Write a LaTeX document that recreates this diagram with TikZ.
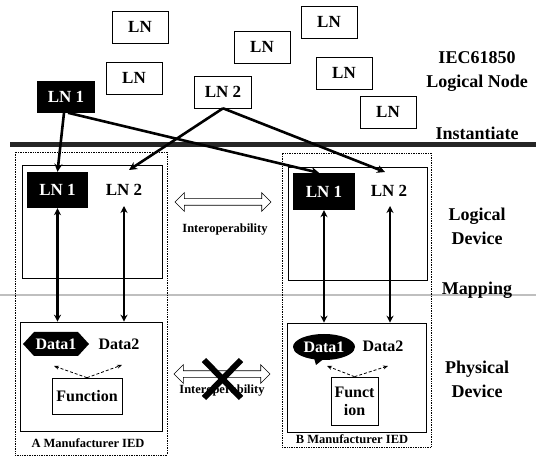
\documentclass[tikz,border=0pt]{standalone}
\usepackage{fontspec}
\setmainfont{Liberation Serif}
\usetikzlibrary{arrows.meta,shapes.geometric,shapes.arrows,shapes.callouts}
\begin{document}
\begin{tikzpicture}[x=1pt,y=-1pt,
  lnbox/.style={draw, line width=0.6pt, minimum width=56pt, minimum height=32pt, inner sep=0pt, font=\fontsize{17}{17}\selectfont\bfseries},
  blackbox/.style={fill=black, text=white, inner sep=0pt, font=\fontsize{17}{17}\selectfont\bfseries},
  plain/.style={inner sep=0pt, font=\fontsize{16}{18}\selectfont\bfseries},
  side/.style={inner sep=0pt, align=center, font=\fontsize{18}{24}\selectfont\bfseries},
  small/.style={inner sep=0pt, font=\fontsize{12.5}{13}\selectfont\bfseries},
  frame/.style={draw, line width=0.6pt, inner sep=0pt},
  outer/.style={draw, densely dotted, line width=0.7pt, inner sep=0pt},
  conn/.style={line width=2.6pt, -{Stealth[length=8pt,width=8pt]}},
  vconn/.style={line width=2.2pt, {Stealth[length=7pt,width=7pt]}-{Stealth[length=7pt,width=7pt]}},
  dconn/.style={densely dashed, line width=0.8pt, -{Stealth[length=5pt,width=4pt]}},
  hollow/.style={double arrow, draw, line width=0.6pt, minimum height=96pt, minimum width=18pt, inner sep=3pt, double arrow head extend=6pt}
]
\useasboundingbox (0,0) rectangle (536,457);

% band lines
\draw[line width=5pt, black!85] (10,145) -- (536,145);
\draw[line width=2.5pt, black!25] (0,295) -- (536,295);

% top logical nodes
\node[lnbox] (t1) at (140,27) {LN};
\node[lnbox] (t2) at (134,78) {LN};
\node[lnbox] (t3) at (262,47) {LN};
\node[lnbox] (t4) at (329,22) {LN};
\node[lnbox] (t5) at (344,73) {LN};
\node[lnbox] (t6) at (388,112) {LN};
\node[lnbox, fill=black, text=white, minimum width=57pt, minimum height=31pt] (tln1) at (66,97) {LN 1};
\node[lnbox, minimum width=57pt] (tln2) at (223,92) {LN 2};

% side labels
\node[side] (iec) at (477,72) {IEC61850\\Logical Node};
\node[side] (inst) at (477,133) {Instantiate};
\node[side] (ld) at (477,226) {Logical\\Device};
\node[side] (map) at (477,290) {Mapping};
\node[side] (pd) at (477,379) {Physical\\Device};

% IED frames
\node[outer, minimum width=152pt, minimum height=303pt] (iedA) at (91,303.5) {};
\node[outer, minimum width=149pt, minimum height=294pt] (iedB) at (356.5,300) {};
\node[frame, minimum width=140pt, minimum height=113pt] (ldA) at (92,221.5) {};
\node[frame, minimum width=139pt, minimum height=113pt] (ldB) at (357.5,223.5) {};
\node[frame, minimum width=142pt, minimum height=109pt] (phA) at (91,376.5) {};
\node[frame, minimum width=139pt, minimum height=109pt] (phB) at (356.5,377.5) {};

% device logical nodes
\node[blackbox, minimum width=61pt, minimum height=36pt] (aln1) at (57.5,190) {LN 1};
\node[plain, font=\fontsize{17}{17}\selectfont\bfseries] (aln2) at (124,190) {LN 2};
\node[blackbox, minimum width=62pt, minimum height=37pt] (bln1) at (324,191.5) {LN 1};
\node[plain, font=\fontsize{17}{17}\selectfont\bfseries] (bln2) at (389,191) {LN 2};
\coordinate (aln2top) at (129,170);
\coordinate (bln2top) at (385,172);
\coordinate (aln2bot) at (124,206);
\coordinate (bln2bot) at (390,206);

% instantiate connectors
\draw[conn] ([xshift=-2pt]tln1.south) -- (aln1.north);
\draw[conn] ([xshift=2pt]tln1.south) -- ([xshift=-5pt]bln1.north);
\draw[conn] (tln2.south) -- (aln2top);
\draw[conn] (tln2.south) -- (bln2top);

% physical device A
\fill (23,344) -- (34,332) -- (78,332) -- (89,344) -- (78,356) -- (34,356) -- cycle;
\node[plain, text=white] (ad1) at (56,344) {Data1};
\node[plain] (ad2) at (119,344) {Data2};
\node[frame, plain, minimum width=70pt, minimum height=36pt] (afn) at (87,396) {Function};
\draw[dconn] (afn.north) -- (54,366);
\draw[dconn] (afn.north) -- (122,365);

% physical device B
\node[ellipse callout, fill=black, text=white, minimum width=62pt, minimum height=26pt, inner sep=0pt,
      callout absolute pointer={(316,365)}, plain] (bd1) at (324,347) {Data1};
\node[plain] (bd2) at (383,346) {Data2};
\node[frame, plain, align=center, minimum width=47pt, minimum height=48pt] (bfn) at (354.5,401) {Funct\\ion};
\draw[dconn] (bfn.north) -- (327,366);
\draw[dconn] (bfn.north) -- (388,366);

% mapping connectors
\draw[vconn] (aln1.south) -- (aln1.south |- phA.north);
\draw[vconn] (aln2bot) -- (aln2bot |- phA.north);
\draw[vconn] (bln1.south) -- (bln1.south |- phB.north);
\draw[vconn] (bln2bot) -- (bln2bot |- phB.north);

% interoperability
\node[hollow] (ia1) at (223,202) {};
\node[small] (it1) at (225,230) {Interoperability};
\node[hollow] (ia2) at (222,374) {};
\node[small] (it2) at (222,391) {Interoperability};
\draw[line width=6pt] (204,360) -- (241,398);
\draw[line width=6pt] (241,360) -- (204,398);

% IED labels
\node[small] (alab) at (88,443) {A Manufacturer IED};
\node[small] (blab) at (352,439) {B Manufacturer IED};
\end{tikzpicture}
\end{document}
